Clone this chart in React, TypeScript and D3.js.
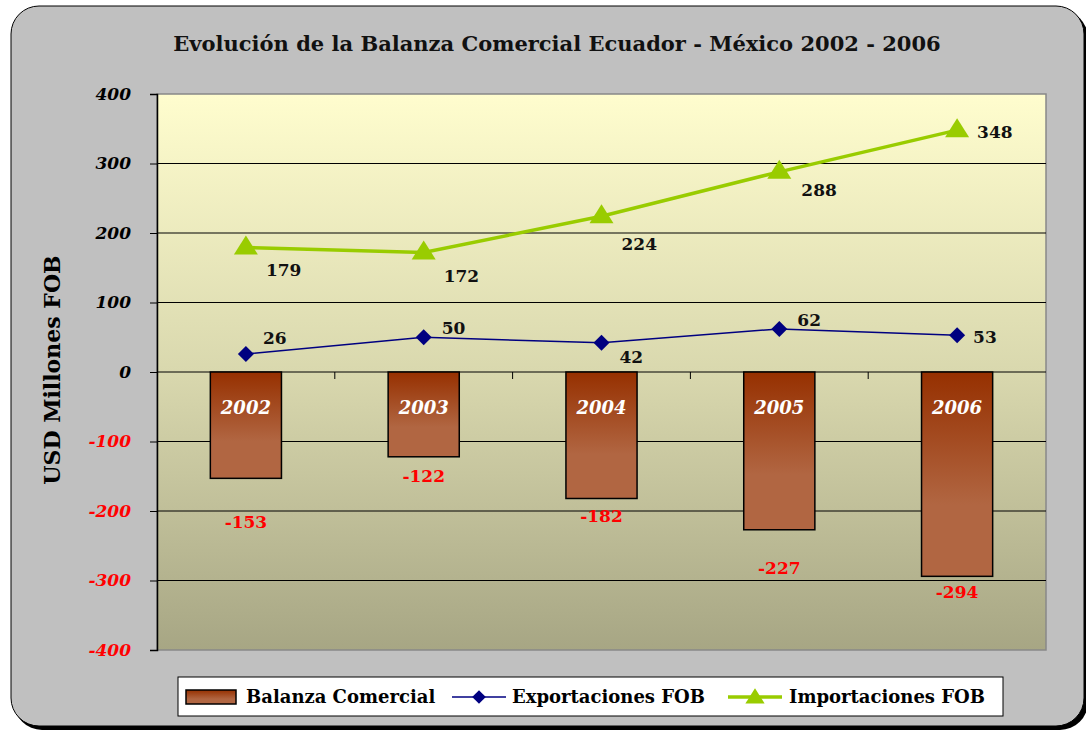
import React, { useEffect, useRef } from "react";
import * as d3 from "d3";

const years = ["2002", "2003", "2004", "2005", "2006"];
const balanza = [-153, -122, -182, -227, -294];
const exportaciones = [26, 50, 42, 62, 53];
const importaciones = [179, 172, 224, 288, 348];
const yTicks = [400, 300, 200, 100, 0, -100, -200, -300, -400];

// label nudges (dx, dy) per point, as the original chart placed them
const expLabelOffset = [[17, -10], [18, -3], [18, 20], [18, -3], [16, 8]];
const impLabelOffset = [[20, 28], [20, 30], [20, 34], [22, 24], [20, 8]];
const balLabelOffset = [50, 25, 24, 44, 22];

const FONT = "'DejaVu Serif', 'Liberation Serif', serif";

function App() {
  const svgRef = useRef<SVGSVGElement>(null);

  useEffect(() => {
    const svg = d3.select(svgRef.current);
    svg.selectAll("*").remove();
    const width = 1086;
    const margin = { top: 94, right: 40, bottom: 82, left: 157 };
    const plotBottom = 650;

    const defs = svg.append("defs");
    const bg = defs.append("linearGradient").attr("id", "plotBg").attr("x1", 0).attr("y1", 0).attr("x2", 0).attr("y2", 1);
    bg.append("stop").attr("offset", "0%").attr("stop-color", "#fffdce");
    bg.append("stop").attr("offset", "50%").attr("stop-color", "#d9d8ae");
    bg.append("stop").attr("offset", "100%").attr("stop-color", "#a7a684");
    const barG = defs.append("linearGradient").attr("id", "barFill").attr("x1", 0).attr("y1", 0).attr("x2", 0).attr("y2", 1);
    barG.append("stop").attr("offset", "0%").attr("stop-color", "#963000");
    barG.append("stop").attr("offset", "65%").attr("stop-color", "#b16642");
    barG.append("stop").attr("offset", "100%").attr("stop-color", "#b16642");

    // outer frame with shadow
    svg.append("rect").attr("x", 14).attr("y", 10).attr("width", 1074).attr("height", 720).attr("rx", 28).attr("fill", "#000");
    svg.append("rect").attr("x", 11).attr("y", 6).attr("width", 1073).attr("height", 720).attr("rx", 28)
      .attr("fill", "#c0c0c0").attr("stroke", "#000").attr("stroke-width", 1);

    const x = d3.scaleBand().domain(years).range([margin.left, width - margin.right]).paddingInner(0.6).paddingOuter(0.3);
    const xc = d3.scaleBand().domain(years).range([margin.left, width - margin.right]);
    const y = d3.scaleLinear().domain([-400, 400]).range([plotBottom, margin.top]);

    svg.append("rect").attr("x", margin.left).attr("y", margin.top)
      .attr("width", width - margin.right - margin.left).attr("height", plotBottom - margin.top)
      .attr("fill", "url(#plotBg)").attr("stroke", "#888").attr("stroke-width", 1.5);

    // gridlines
    svg.append("g").selectAll("line").data(yTicks.filter((t) => t !== 400 && t !== -400)).join("line")
      .attr("x1", margin.left).attr("x2", width - margin.right)
      .attr("y1", (d) => y(d)).attr("y2", (d) => y(d))
      .attr("stroke", "#000").attr("stroke-width", 1);

    // y axis
    const yAxis = d3.axisLeft(y).tickValues(yTicks).tickSize(7).tickFormat((d) => String(d));
    const ya = svg.append("g").attr("transform", `translate(${margin.left},0)`).call(yAxis);
    ya.select(".domain").attr("stroke", "#000").attr("stroke-width", 1.5);
    ya.selectAll("line").attr("stroke", "#000");
    ya.selectAll("text")
      .attr("font-family", FONT).attr("font-size", 17).attr("font-weight", "bold").attr("font-style", "italic")
      .attr("x", -26)
      .attr("fill", (d: any) => (d < 0 ? "#ff0000" : "#000"));

    // category ticks on zero line
    svg.append("g").selectAll("line").data(years.slice(1)).join("line")
      .attr("x1", (d) => xc(d)!).attr("x2", (d) => xc(d)!)
      .attr("y1", y(0)).attr("y2", y(0) + 7).attr("stroke", "#000");

    // bars
    svg.append("g").selectAll("rect").data(balanza).join("rect")
      .attr("x", (_, i) => x(years[i])!)
      .attr("y", y(0))
      .attr("width", x.bandwidth())
      .attr("height", (d) => y(d) - y(0))
      .attr("fill", "url(#barFill)").attr("stroke", "#000").attr("stroke-width", 1.5);

    svg.append("g").selectAll("text").data(years).join("text")
      .attr("x", (d) => x(d)! + x.bandwidth() / 2).attr("y", y(0) + 42)
      .attr("text-anchor", "middle").attr("fill", "#fff")
      .attr("font-family", FONT).attr("font-size", 18).attr("font-weight", "bold").attr("font-style", "italic")
      .text((d) => d);

    svg.append("g").selectAll("text").data(balanza).join("text")
      .attr("x", (_, i) => x(years[i])! + x.bandwidth() / 2)
      .attr("y", (d, i) => y(d) + balLabelOffset[i])
      .attr("text-anchor", "middle").attr("fill", "#ff0000")
      .attr("font-family", FONT).attr("font-size", 17).attr("font-weight", "bold")
      .text((d) => d);

    const cx = (i: number) => xc(years[i])! + xc.bandwidth() / 2;
    const line = d3.line<number>().x((_, i) => cx(i)).y((d) => y(d));

    // importaciones
    svg.append("path").datum(importaciones).attr("fill", "none").attr("stroke", "#99cc00").attr("stroke-width", 3.5).attr("d", line);
    const tri = "M0,-11L12,8L-12,8Z";
    svg.append("g").selectAll("path").data(importaciones).join("path")
      .attr("transform", (d, i) => `translate(${cx(i)},${y(d) - 1})`)
      .attr("d", tri).attr("fill", "#99cc00");
    svg.append("g").selectAll("text").data(importaciones).join("text")
      .attr("x", (_, i) => cx(i) + impLabelOffset[i][0]).attr("y", (d, i) => y(d) + impLabelOffset[i][1])
      .attr("font-family", FONT).attr("font-size", 17).attr("font-weight", "bold").attr("fill", "#111")
      .text((d) => d);

    // exportaciones
    svg.append("path").datum(exportaciones).attr("fill", "none").attr("stroke", "#000080").attr("stroke-width", 1.5).attr("d", line);
    const dia = "M0,-8L8,0L0,8L-8,0Z";
    svg.append("g").selectAll("path").data(exportaciones).join("path")
      .attr("transform", (d, i) => `translate(${cx(i)},${y(d)})`)
      .attr("d", dia).attr("fill", "#000080");
    svg.append("g").selectAll("text").data(exportaciones).join("text")
      .attr("x", (_, i) => cx(i) + expLabelOffset[i][0]).attr("y", (d, i) => y(d) + expLabelOffset[i][1])
      .attr("font-family", FONT).attr("font-size", 17).attr("font-weight", "bold").attr("fill", "#111")
      .text((d) => d);

    // title
    svg.append("text").attr("x", 557).attr("y", 51).attr("text-anchor", "middle")
      .attr("font-family", FONT).attr("font-size", 21).attr("font-weight", "bold").attr("fill", "#111")
      .text("Evolución de la Balanza Comercial Ecuador - México 2002 - 2006");

    // y label
    svg.append("text").attr("transform", `translate(60,${(margin.top + plotBottom) / 2 - 2}) rotate(-90)`)
      .attr("text-anchor", "middle")
      .attr("font-family", FONT).attr("font-size", 22).attr("font-weight", "bold").attr("fill", "#000")
      .text("USD Millones FOB");

    // legend
    const lg = svg.append("g");
    lg.append("rect").attr("x", 178).attr("y", 677).attr("width", 825).attr("height", 39).attr("fill", "#fff").attr("stroke", "#000");
    const ly = 697;
    lg.append("rect").attr("x", 186).attr("y", ly - 7).attr("width", 50).attr("height", 14).attr("fill", "url(#barFill)").attr("stroke", "#000").attr("stroke-width", 1.5);
    lg.append("line").attr("x1", 452).attr("x2", 506).attr("y1", ly).attr("y2", ly).attr("stroke", "#000080").attr("stroke-width", 1.5);
    lg.append("path").attr("transform", `translate(479,${ly}) scale(0.85)`).attr("d", dia).attr("fill", "#000080");
    lg.append("line").attr("x1", 728).attr("x2", 782).attr("y1", ly).attr("y2", ly).attr("stroke", "#99cc00").attr("stroke-width", 3.5);
    lg.append("path").attr("transform", `translate(755,${ly}) scale(0.8)`).attr("d", tri).attr("fill", "#99cc00");
    const legendLabels = [["Balanza Comercial", 246], ["Exportaciones FOB", 512], ["Importaciones FOB", 789]] as const;
    lg.selectAll("text.l").data(legendLabels).join("text")
      .attr("x", (d) => d[1]).attr("y", ly + 6)
      .attr("font-family", FONT).attr("font-size", 18).attr("font-weight", "bold").attr("fill", "#000")
      .text((d) => d[0]);
  }, []);

  return (
    <svg ref={svgRef} width={1086} height={732} style={{ position: "absolute", left: 0, top: 0, background: "#fff" }}></svg>
  );
}

export default App;
